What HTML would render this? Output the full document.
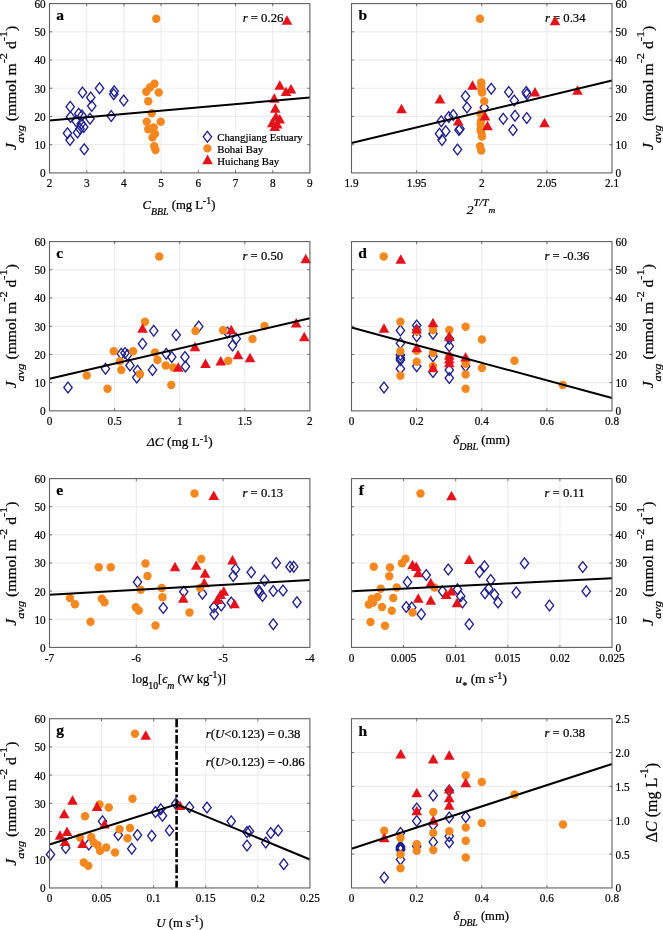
<!DOCTYPE html>
<html lang="en"><head><meta charset="utf-8"><title>Figure</title>
<style>html,body{margin:0;padding:0;background:#fff}svg{display:block;filter:blur(.3px)}text{stroke:#000;stroke-width:.22px;paint-order:stroke fill}</style></head><body>
<svg width="663" height="930" viewBox="0 0 663 930" font-family='"Liberation Serif", "DejaVu Serif", serif' fill="#000">
<rect width="663" height="930" fill="#fff"/>
<g id="p0">
<path d="M86.70 3.6V172.9M123.90 3.6V172.9M161.10 3.6V172.9M198.30 3.6V172.9M235.50 3.6V172.9M272.70 3.6V172.9M49.5 31.82H309.9M49.5 60.03H309.9M49.5 88.25H309.9M49.5 116.47H309.9M49.5 144.68H309.9" stroke="#e4e4e4" stroke-width="0.8" fill="none"/>
<text x="242.7" y="22" font-size="12.7"><tspan font-style="italic">r</tspan> = 0.26</text>
<g fill="none" stroke="#1f1f8f" stroke-width="1.3"><path d="M82.50 87.05L86.70 92.50L82.50 97.95L78.30 92.50Z"/><path d="M99.50 82.80L103.70 88.25L99.50 93.70L95.30 88.25Z"/><path d="M90.75 92.05L94.95 97.50L90.75 102.95L86.55 97.50Z"/><path d="M114.25 85.80L118.45 91.25L114.25 96.70L110.05 91.25Z"/><path d="M113.75 88.80L117.95 94.25L113.75 99.70L109.55 94.25Z"/><path d="M123.75 95.05L127.95 100.50L123.75 105.95L119.55 100.50Z"/><path d="M70.25 101.30L74.45 106.75L70.25 112.20L66.05 106.75Z"/><path d="M91.75 100.55L95.95 106.00L91.75 111.45L87.55 106.00Z"/><path d="M111.25 110.55L115.45 116.00L111.25 121.45L107.05 116.00Z"/><path d="M70.50 111.55L74.70 117.00L70.50 122.45L66.30 117.00Z"/><path d="M78.75 108.30L82.95 113.75L78.75 119.20L74.55 113.75Z"/><path d="M82.00 110.05L86.20 115.50L82.00 120.95L77.80 115.50Z"/><path d="M90.00 113.30L94.20 118.75L90.00 124.20L85.80 118.75Z"/><path d="M76.25 115.80L80.45 121.25L76.25 126.70L72.05 121.25Z"/><path d="M81.25 118.30L85.45 123.75L81.25 129.20L77.05 123.75Z"/><path d="M83.75 121.55L87.95 127.00L83.75 132.45L79.55 127.00Z"/><path d="M80.00 123.30L84.20 128.75L80.00 134.20L75.80 128.75Z"/><path d="M77.50 127.05L81.70 132.50L77.50 137.95L73.30 132.50Z"/><path d="M67.50 127.80L71.70 133.25L67.50 138.70L63.30 133.25Z"/><path d="M70.00 134.55L74.20 140.00L70.00 145.45L65.80 140.00Z"/><path d="M84.25 143.80L88.45 149.25L84.25 154.70L80.05 149.25Z"/></g>
<g fill="#f5871f"><circle cx="156.25" cy="18.75" r="4.2"/><circle cx="154.50" cy="83.75" r="4.2"/><circle cx="150.00" cy="87.50" r="4.2"/><circle cx="146.25" cy="91.75" r="4.2"/><circle cx="158.75" cy="92.50" r="4.2"/><circle cx="148.25" cy="101.25" r="4.2"/><circle cx="151.75" cy="113.25" r="4.2"/><circle cx="146.75" cy="121.75" r="4.2"/><circle cx="160.75" cy="121.75" r="4.2"/><circle cx="153.75" cy="127.50" r="4.2"/><circle cx="148.25" cy="129.25" r="4.2"/><circle cx="155.00" cy="133.75" r="4.2"/><circle cx="152.50" cy="137.50" r="4.2"/><circle cx="154.25" cy="146.25" r="4.2"/><circle cx="155.50" cy="150.00" r="4.2"/></g>
<g fill="#e4131b"><path d="M287.00 15.20L292.30 24.80L281.70 24.80Z"/><path d="M279.75 80.20L285.05 89.80L274.45 89.80Z"/><path d="M291.00 83.95L296.30 93.55L285.70 93.55Z"/><path d="M286.00 86.45L291.30 96.05L280.70 96.05Z"/><path d="M274.25 93.20L279.55 102.80L268.95 102.80Z"/><path d="M275.25 103.20L280.55 112.80L269.95 112.80Z"/><path d="M276.00 111.45L281.30 121.05L270.70 121.05Z"/><path d="M279.75 113.95L285.05 123.55L274.45 123.55Z"/><path d="M272.25 117.70L277.55 127.30L266.95 127.30Z"/><path d="M277.25 118.95L282.55 128.55L271.95 128.55Z"/><path d="M274.75 121.45L280.05 131.05L269.45 131.05Z"/></g>
<path d="M49.50 120.50L309.90 97.50" stroke="#000" stroke-width="2" fill="none" stroke-linejoin="miter"/>
<path d="M86.70 172.9v-2.6M86.70 3.6v2.6M123.90 172.9v-2.6M123.90 3.6v2.6M161.10 172.9v-2.6M161.10 3.6v2.6M198.30 172.9v-2.6M198.30 3.6v2.6M235.50 172.9v-2.6M235.50 3.6v2.6M272.70 172.9v-2.6M272.70 3.6v2.6M49.5 31.82h2.6M309.9 31.82h-2.6M49.5 60.03h2.6M309.9 60.03h-2.6M49.5 88.25h2.6M309.9 88.25h-2.6M49.5 116.47h2.6M309.9 116.47h-2.6M49.5 144.68h2.6M309.9 144.68h-2.6" stroke="#606060" stroke-width="0.9" fill="none"/>
<rect x="49.5" y="3.6" width="260.40" height="169.30" fill="none" stroke="#606060" stroke-width="1.1"/>
<text transform="translate(49.50,187.10) scale(0.925,1)" text-anchor="middle" font-size="12.2">2</text>
<text transform="translate(86.70,187.10) scale(0.925,1)" text-anchor="middle" font-size="12.2">3</text>
<text transform="translate(123.90,187.10) scale(0.925,1)" text-anchor="middle" font-size="12.2">4</text>
<text transform="translate(161.10,187.10) scale(0.925,1)" text-anchor="middle" font-size="12.2">5</text>
<text transform="translate(198.30,187.10) scale(0.925,1)" text-anchor="middle" font-size="12.2">6</text>
<text transform="translate(235.50,187.10) scale(0.925,1)" text-anchor="middle" font-size="12.2">7</text>
<text transform="translate(272.70,187.10) scale(0.925,1)" text-anchor="middle" font-size="12.2">8</text>
<text transform="translate(309.90,187.10) scale(0.925,1)" text-anchor="middle" font-size="12.2">9</text>
<text transform="translate(45.70,8.00) scale(0.925,1)" text-anchor="end" font-size="12.2">60</text>
<text transform="translate(45.70,36.22) scale(0.925,1)" text-anchor="end" font-size="12.2">50</text>
<text transform="translate(45.70,64.43) scale(0.925,1)" text-anchor="end" font-size="12.2">40</text>
<text transform="translate(45.70,92.65) scale(0.925,1)" text-anchor="end" font-size="12.2">30</text>
<text transform="translate(45.70,120.87) scale(0.925,1)" text-anchor="end" font-size="12.2">20</text>
<text transform="translate(45.70,149.08) scale(0.925,1)" text-anchor="end" font-size="12.2">10</text>
<text transform="translate(45.70,177.30) scale(0.925,1)" text-anchor="end" font-size="12.2">0</text>
</g>
<g id="p1">
<path d="M416.62 3.6V172.9M481.75 3.6V172.9M546.88 3.6V172.9M351.5 31.82H612.0M351.5 60.03H612.0M351.5 88.25H612.0M351.5 116.47H612.0M351.5 144.68H612.0" stroke="#e4e4e4" stroke-width="0.8" fill="none"/>
<text x="544.9" y="22" font-size="12.7"><tspan font-style="italic">r</tspan> = 0.34</text>
<g fill="none" stroke="#1f1f8f" stroke-width="1.3"><path d="M491.25 83.30L495.45 88.75L491.25 94.20L487.05 88.75Z"/><path d="M508.75 86.55L512.95 92.00L508.75 97.45L504.55 92.00Z"/><path d="M526.25 86.55L530.45 92.00L526.25 97.45L522.05 92.00Z"/><path d="M527.00 88.80L531.20 94.25L527.00 99.70L522.80 94.25Z"/><path d="M465.50 90.80L469.70 96.25L465.50 101.70L461.30 96.25Z"/><path d="M514.25 95.05L518.45 100.50L514.25 105.95L510.05 100.50Z"/><path d="M467.00 102.05L471.20 107.50L467.00 112.95L462.80 107.50Z"/><path d="M484.25 102.05L488.45 107.50L484.25 112.95L480.05 107.50Z"/><path d="M453.25 109.55L457.45 115.00L453.25 120.45L449.05 115.00Z"/><path d="M448.75 111.55L452.95 117.00L448.75 122.45L444.55 117.00Z"/><path d="M515.00 110.30L519.20 115.75L515.00 121.20L510.80 115.75Z"/><path d="M503.25 113.30L507.45 118.75L503.25 124.20L499.05 118.75Z"/><path d="M526.75 112.55L530.95 118.00L526.75 123.45L522.55 118.00Z"/><path d="M441.25 115.80L445.45 121.25L441.25 126.70L437.05 121.25Z"/><path d="M460.00 123.30L464.20 128.75L460.00 134.20L455.80 128.75Z"/><path d="M459.00 124.55L463.20 130.00L459.00 135.45L454.80 130.00Z"/><path d="M513.00 124.55L517.20 130.00L513.00 135.45L508.80 130.00Z"/><path d="M445.75 125.80L449.95 131.25L445.75 136.70L441.55 131.25Z"/><path d="M439.50 128.30L443.70 133.75L439.50 139.20L435.30 133.75Z"/><path d="M442.00 134.55L446.20 140.00L442.00 145.45L437.80 140.00Z"/><path d="M457.50 144.05L461.70 149.50L457.50 154.95L453.30 149.50Z"/></g>
<g fill="#f5871f"><circle cx="480.00" cy="18.75" r="4.2"/><circle cx="481.25" cy="82.50" r="4.2"/><circle cx="481.25" cy="86.00" r="4.2"/><circle cx="481.50" cy="90.00" r="4.2"/><circle cx="482.00" cy="92.50" r="4.2"/><circle cx="484.25" cy="101.25" r="4.2"/><circle cx="480.50" cy="113.75" r="4.2"/><circle cx="481.00" cy="121.00" r="4.2"/><circle cx="480.50" cy="124.00" r="4.2"/><circle cx="481.00" cy="127.00" r="4.2"/><circle cx="480.50" cy="130.00" r="4.2"/><circle cx="481.50" cy="133.00" r="4.2"/><circle cx="482.00" cy="136.50" r="4.2"/><circle cx="480.00" cy="146.25" r="4.2"/><circle cx="481.25" cy="150.50" r="4.2"/></g>
<g fill="#e4131b"><path d="M555.00 15.70L560.30 25.30L549.70 25.30Z"/><path d="M472.50 80.20L477.80 89.80L467.20 89.80Z"/><path d="M535.00 86.95L540.30 96.55L529.70 96.55Z"/><path d="M440.00 93.95L445.30 103.55L434.70 103.55Z"/><path d="M401.50 103.70L406.80 113.30L396.20 113.30Z"/><path d="M485.00 110.95L490.30 120.55L479.70 120.55Z"/><path d="M458.25 115.95L463.55 125.55L452.95 125.55Z"/><path d="M544.50 117.70L549.80 127.30L539.20 127.30Z"/><path d="M487.50 120.70L492.80 130.30L482.20 130.30Z"/><path d="M577.50 85.20L582.80 94.80L572.20 94.80Z"/></g>
<path d="M351.50 143.00L612.00 80.50" stroke="#000" stroke-width="2" fill="none" stroke-linejoin="miter"/>
<path d="M416.62 172.9v-2.6M416.62 3.6v2.6M481.75 172.9v-2.6M481.75 3.6v2.6M546.88 172.9v-2.6M546.88 3.6v2.6M351.5 31.82h2.6M612.0 31.82h-2.6M351.5 60.03h2.6M612.0 60.03h-2.6M351.5 88.25h2.6M612.0 88.25h-2.6M351.5 116.47h2.6M612.0 116.47h-2.6M351.5 144.68h2.6M612.0 144.68h-2.6" stroke="#606060" stroke-width="0.9" fill="none"/>
<rect x="351.5" y="3.6" width="260.50" height="169.30" fill="none" stroke="#606060" stroke-width="1.1"/>
<text transform="translate(351.50,187.10) scale(0.925,1)" text-anchor="middle" font-size="12.2">1.9</text>
<text transform="translate(416.62,187.10) scale(0.925,1)" text-anchor="middle" font-size="12.2">1.95</text>
<text transform="translate(481.75,187.10) scale(0.925,1)" text-anchor="middle" font-size="12.2">2</text>
<text transform="translate(546.88,187.10) scale(0.925,1)" text-anchor="middle" font-size="12.2">2.05</text>
<text transform="translate(612.00,187.10) scale(0.925,1)" text-anchor="middle" font-size="12.2">2.1</text>
<text transform="translate(615.50,8.00) scale(0.925,1)" text-anchor="start" font-size="12.2">60</text>
<text transform="translate(615.50,36.22) scale(0.925,1)" text-anchor="start" font-size="12.2">50</text>
<text transform="translate(615.50,64.43) scale(0.925,1)" text-anchor="start" font-size="12.2">40</text>
<text transform="translate(615.50,92.65) scale(0.925,1)" text-anchor="start" font-size="12.2">30</text>
<text transform="translate(615.50,120.87) scale(0.925,1)" text-anchor="start" font-size="12.2">20</text>
<text transform="translate(615.50,149.08) scale(0.925,1)" text-anchor="start" font-size="12.2">10</text>
<text transform="translate(615.50,177.30) scale(0.925,1)" text-anchor="start" font-size="12.2">0</text>
</g>
<g id="p2">
<path d="M114.60 241.6V410.85M179.70 241.6V410.85M244.80 241.6V410.85M49.5 269.81H309.9M49.5 298.02H309.9M49.5 326.23H309.9M49.5 354.43H309.9M49.5 382.64H309.9" stroke="#e4e4e4" stroke-width="0.8" fill="none"/>
<g fill="none" stroke="#1f1f8f" stroke-width="1.3"><path d="M198.75 321.05L202.95 326.50L198.75 331.95L194.55 326.50Z"/><path d="M153.75 325.30L157.95 330.75L153.75 336.20L149.55 330.75Z"/><path d="M176.25 329.55L180.45 335.00L176.25 340.45L172.05 335.00Z"/><path d="M142.50 338.30L146.70 343.75L142.50 349.20L138.30 343.75Z"/><path d="M121.25 348.30L125.45 353.75L121.25 359.20L117.05 353.75Z"/><path d="M125.00 347.55L129.20 353.00L125.00 358.45L120.80 353.00Z"/><path d="M127.50 349.55L131.70 355.00L127.50 360.45L123.30 355.00Z"/><path d="M166.25 348.30L170.45 353.75L166.25 359.20L162.05 353.75Z"/><path d="M171.75 351.55L175.95 357.00L171.75 362.45L167.55 357.00Z"/><path d="M185.00 351.55L189.20 357.00L185.00 362.45L180.80 357.00Z"/><path d="M130.00 360.05L134.20 365.50L130.00 370.95L125.80 365.50Z"/><path d="M105.50 363.30L109.70 368.75L105.50 374.20L101.30 368.75Z"/><path d="M185.50 361.05L189.70 366.50L185.50 371.95L181.30 366.50Z"/><path d="M137.50 365.30L141.70 370.75L137.50 376.20L133.30 370.75Z"/><path d="M152.50 364.55L156.70 370.00L152.50 375.45L148.30 370.00Z"/><path d="M136.75 372.05L140.95 377.50L136.75 382.95L132.55 377.50Z"/><path d="M68.00 382.05L72.20 387.50L68.00 392.95L63.80 387.50Z"/><path d="M227.50 327.05L231.70 332.50L227.50 337.95L223.30 332.50Z"/><path d="M236.25 333.30L240.45 338.75L236.25 344.20L232.05 338.75Z"/><path d="M232.50 340.05L236.70 345.50L232.50 350.95L228.30 345.50Z"/></g>
<g fill="#f5871f"><circle cx="159.25" cy="256.50" r="4.2"/><circle cx="145.00" cy="321.75" r="4.2"/><circle cx="195.50" cy="331.00" r="4.2"/><circle cx="113.75" cy="351.25" r="4.2"/><circle cx="133.00" cy="351.25" r="4.2"/><circle cx="155.00" cy="352.50" r="4.2"/><circle cx="120.00" cy="361.25" r="4.2"/><circle cx="157.50" cy="360.00" r="4.2"/><circle cx="165.75" cy="365.50" r="4.2"/><circle cx="121.25" cy="370.00" r="4.2"/><circle cx="173.25" cy="367.50" r="4.2"/><circle cx="140.00" cy="374.25" r="4.2"/><circle cx="86.75" cy="375.50" r="4.2"/><circle cx="171.25" cy="385.00" r="4.2"/><circle cx="107.50" cy="388.75" r="4.2"/><circle cx="223.00" cy="330.25" r="4.2"/><circle cx="264.50" cy="326.00" r="4.2"/><circle cx="252.50" cy="339.00" r="4.2"/><circle cx="228.25" cy="360.75" r="4.2"/></g>
<g fill="#e4131b"><path d="M142.50 323.20L147.80 332.80L137.20 332.80Z"/><path d="M195.00 341.70L200.30 351.30L189.70 351.30Z"/><path d="M178.25 362.20L183.55 371.80L172.95 371.80Z"/><path d="M205.50 358.45L210.80 368.05L200.20 368.05Z"/><path d="M305.75 253.70L311.05 263.30L300.45 263.30Z"/><path d="M296.25 317.95L301.55 327.55L290.95 327.55Z"/><path d="M304.25 331.70L309.55 341.30L298.95 341.30Z"/><path d="M231.25 324.70L236.55 334.30L225.95 334.30Z"/><path d="M238.00 349.70L243.30 359.30L232.70 359.30Z"/><path d="M250.00 352.70L255.30 362.30L244.70 362.30Z"/><path d="M220.75 355.95L226.05 365.55L215.45 365.55Z"/></g>
<path d="M49.50 378.75L309.90 318.30" stroke="#000" stroke-width="2" fill="none" stroke-linejoin="miter"/>
<path d="M114.60 410.85v-2.6M114.60 241.6v2.6M179.70 410.85v-2.6M179.70 241.6v2.6M244.80 410.85v-2.6M244.80 241.6v2.6M49.5 269.81h2.6M309.9 269.81h-2.6M49.5 298.02h2.6M309.9 298.02h-2.6M49.5 326.23h2.6M309.9 326.23h-2.6M49.5 354.43h2.6M309.9 354.43h-2.6M49.5 382.64h2.6M309.9 382.64h-2.6" stroke="#606060" stroke-width="0.9" fill="none"/>
<rect x="49.5" y="241.6" width="260.40" height="169.25" fill="none" stroke="#606060" stroke-width="1.1"/>
<text transform="translate(49.50,425.05) scale(0.925,1)" text-anchor="middle" font-size="12.2">0</text>
<text transform="translate(114.60,425.05) scale(0.925,1)" text-anchor="middle" font-size="12.2">0.5</text>
<text transform="translate(179.70,425.05) scale(0.925,1)" text-anchor="middle" font-size="12.2">1</text>
<text transform="translate(244.80,425.05) scale(0.925,1)" text-anchor="middle" font-size="12.2">1.5</text>
<text transform="translate(309.90,425.05) scale(0.925,1)" text-anchor="middle" font-size="12.2">2</text>
<text transform="translate(45.70,246.00) scale(0.925,1)" text-anchor="end" font-size="12.2">60</text>
<text transform="translate(45.70,274.21) scale(0.925,1)" text-anchor="end" font-size="12.2">50</text>
<text transform="translate(45.70,302.42) scale(0.925,1)" text-anchor="end" font-size="12.2">40</text>
<text transform="translate(45.70,330.62) scale(0.925,1)" text-anchor="end" font-size="12.2">30</text>
<text transform="translate(45.70,358.83) scale(0.925,1)" text-anchor="end" font-size="12.2">20</text>
<text transform="translate(45.70,387.04) scale(0.925,1)" text-anchor="end" font-size="12.2">10</text>
<text transform="translate(45.70,415.25) scale(0.925,1)" text-anchor="end" font-size="12.2">0</text>
</g>
<g id="p3">
<path d="M416.62 241.6V410.85M481.75 241.6V410.85M546.88 241.6V410.85M351.5 269.81H612.0M351.5 298.02H612.0M351.5 326.23H612.0M351.5 354.43H612.0M351.5 382.64H612.0" stroke="#e4e4e4" stroke-width="0.8" fill="none"/>
<g fill="none" stroke="#1f1f8f" stroke-width="1.3"><path d="M384.00 382.05L388.20 387.50L384.00 392.95L379.80 387.50Z"/><path d="M400.40 325.05L404.60 330.50L400.40 335.95L396.20 330.50Z"/><path d="M400.40 337.80L404.60 343.25L400.40 348.70L396.20 343.25Z"/><path d="M400.40 349.55L404.60 355.00L400.40 360.45L396.20 355.00Z"/><path d="M400.40 352.55L404.60 358.00L400.40 363.45L396.20 358.00Z"/><path d="M400.40 354.55L404.60 360.00L400.40 365.45L396.20 360.00Z"/><path d="M400.40 363.30L404.60 368.75L400.40 374.20L396.20 368.75Z"/><path d="M416.70 320.05L420.90 325.50L416.70 330.95L412.50 325.50Z"/><path d="M416.70 324.55L420.90 330.00L416.70 335.45L412.50 330.00Z"/><path d="M416.70 330.80L420.90 336.25L416.70 341.70L412.50 336.25Z"/><path d="M416.70 360.80L420.90 366.25L416.70 371.70L412.50 366.25Z"/><path d="M433.00 328.30L437.20 333.75L433.00 339.20L428.80 333.75Z"/><path d="M433.00 350.80L437.20 356.25L433.00 361.70L428.80 356.25Z"/><path d="M433.00 366.55L437.20 372.00L433.00 377.45L428.80 372.00Z"/><path d="M449.30 333.30L453.50 338.75L449.30 344.20L445.10 338.75Z"/><path d="M449.30 340.80L453.50 346.25L449.30 351.70L445.10 346.25Z"/><path d="M449.30 364.55L453.50 370.00L449.30 375.45L445.10 370.00Z"/><path d="M449.30 372.55L453.50 378.00L449.30 383.45L445.10 378.00Z"/><path d="M465.60 360.80L469.80 366.25L465.60 371.70L461.40 366.25Z"/></g>
<g fill="#f5871f"><circle cx="383.75" cy="256.50" r="4.2"/><circle cx="400.40" cy="321.75" r="4.2"/><circle cx="400.40" cy="351.25" r="4.2"/><circle cx="400.40" cy="375.75" r="4.2"/><circle cx="416.70" cy="331.25" r="4.2"/><circle cx="416.70" cy="350.75" r="4.2"/><circle cx="416.70" cy="361.75" r="4.2"/><circle cx="433.00" cy="330.00" r="4.2"/><circle cx="433.00" cy="353.00" r="4.2"/><circle cx="433.00" cy="366.25" r="4.2"/><circle cx="449.30" cy="330.00" r="4.2"/><circle cx="449.30" cy="356.25" r="4.2"/><circle cx="465.60" cy="326.75" r="4.2"/><circle cx="465.60" cy="363.75" r="4.2"/><circle cx="465.60" cy="374.50" r="4.2"/><circle cx="465.60" cy="388.75" r="4.2"/><circle cx="481.90" cy="339.50" r="4.2"/><circle cx="481.90" cy="368.00" r="4.2"/><circle cx="514.50" cy="360.75" r="4.2"/><circle cx="562.75" cy="385.00" r="4.2"/></g>
<g fill="#e4131b"><path d="M400.75 254.20L406.05 263.80L395.45 263.80Z"/><path d="M384.00 323.20L389.30 332.80L378.70 332.80Z"/><path d="M416.70 323.95L422.00 333.55L411.40 333.55Z"/><path d="M416.70 342.70L422.00 352.30L411.40 352.30Z"/><path d="M433.00 317.70L438.30 327.30L427.70 327.30Z"/><path d="M433.00 362.70L438.30 372.30L427.70 372.30Z"/><path d="M449.30 331.45L454.60 341.05L444.00 341.05Z"/><path d="M449.30 350.20L454.60 359.80L444.00 359.80Z"/><path d="M449.30 353.95L454.60 363.55L444.00 363.55Z"/><path d="M449.30 357.70L454.60 367.30L444.00 367.30Z"/><path d="M465.60 351.95L470.90 361.55L460.30 361.55Z"/></g>
<path d="M351.50 327.50L612.00 398.00" stroke="#000" stroke-width="2" fill="none" stroke-linejoin="miter"/>
<path d="M416.62 410.85v-2.6M416.62 241.6v2.6M481.75 410.85v-2.6M481.75 241.6v2.6M546.88 410.85v-2.6M546.88 241.6v2.6M351.5 269.81h2.6M612.0 269.81h-2.6M351.5 298.02h2.6M612.0 298.02h-2.6M351.5 326.23h2.6M612.0 326.23h-2.6M351.5 354.43h2.6M612.0 354.43h-2.6M351.5 382.64h2.6M612.0 382.64h-2.6" stroke="#606060" stroke-width="0.9" fill="none"/>
<rect x="351.5" y="241.6" width="260.50" height="169.25" fill="none" stroke="#606060" stroke-width="1.1"/>
<text transform="translate(351.50,425.05) scale(0.925,1)" text-anchor="middle" font-size="12.2">0</text>
<text transform="translate(416.62,425.05) scale(0.925,1)" text-anchor="middle" font-size="12.2">0.2</text>
<text transform="translate(481.75,425.05) scale(0.925,1)" text-anchor="middle" font-size="12.2">0.4</text>
<text transform="translate(546.88,425.05) scale(0.925,1)" text-anchor="middle" font-size="12.2">0.6</text>
<text transform="translate(612.00,425.05) scale(0.925,1)" text-anchor="middle" font-size="12.2">0.8</text>
<text transform="translate(615.50,246.00) scale(0.925,1)" text-anchor="start" font-size="12.2">60</text>
<text transform="translate(615.50,274.21) scale(0.925,1)" text-anchor="start" font-size="12.2">50</text>
<text transform="translate(615.50,302.42) scale(0.925,1)" text-anchor="start" font-size="12.2">40</text>
<text transform="translate(615.50,330.62) scale(0.925,1)" text-anchor="start" font-size="12.2">30</text>
<text transform="translate(615.50,358.83) scale(0.925,1)" text-anchor="start" font-size="12.2">20</text>
<text transform="translate(615.50,387.04) scale(0.925,1)" text-anchor="start" font-size="12.2">10</text>
<text transform="translate(615.50,415.25) scale(0.925,1)" text-anchor="start" font-size="12.2">0</text>
</g>
<g id="p4">
<path d="M136.30 478.6V647.4M223.10 478.6V647.4M49.5 506.73H309.9M49.5 534.87H309.9M49.5 563.00H309.9M49.5 591.13H309.9M49.5 619.27H309.9" stroke="#e4e4e4" stroke-width="0.8" fill="none"/>
<g fill="none" stroke="#1f1f8f" stroke-width="1.3"><path d="M137.50 576.55L141.70 582.00L137.50 587.45L133.30 582.00Z"/><path d="M183.75 586.30L187.95 591.75L183.75 597.20L179.55 591.75Z"/><path d="M202.50 588.30L206.70 593.75L202.50 599.20L198.30 593.75Z"/><path d="M163.25 602.55L167.45 608.00L163.25 613.45L159.05 608.00Z"/><path d="M276.25 557.55L280.45 563.00L276.25 568.45L272.05 563.00Z"/><path d="M290.00 561.30L294.20 566.75L290.00 572.20L285.80 566.75Z"/><path d="M293.75 561.30L297.95 566.75L293.75 572.20L289.55 566.75Z"/><path d="M235.50 563.80L239.70 569.25L235.50 574.70L231.30 569.25Z"/><path d="M251.25 566.80L255.45 572.25L251.25 577.70L247.05 572.25Z"/><path d="M233.25 570.55L237.45 576.00L233.25 581.45L229.05 576.00Z"/><path d="M264.50 575.05L268.70 580.50L264.50 585.95L260.30 580.50Z"/><path d="M258.75 585.05L262.95 590.50L258.75 595.95L254.55 590.50Z"/><path d="M259.50 587.05L263.70 592.50L259.50 597.95L255.30 592.50Z"/><path d="M273.25 585.55L277.45 591.00L273.25 596.45L269.05 591.00Z"/><path d="M283.00 585.05L287.20 590.50L283.00 595.95L278.80 590.50Z"/><path d="M262.50 590.55L266.70 596.00L262.50 601.45L258.30 596.00Z"/><path d="M297.00 596.80L301.20 602.25L297.00 607.70L292.80 602.25Z"/><path d="M231.25 597.05L235.45 602.50L231.25 607.95L227.05 602.50Z"/><path d="M221.25 600.05L225.45 605.50L221.25 610.95L217.05 605.50Z"/><path d="M213.75 601.80L217.95 607.25L213.75 612.70L209.55 607.25Z"/><path d="M214.25 608.80L218.45 614.25L214.25 619.70L210.05 614.25Z"/><path d="M273.25 618.80L277.45 624.25L273.25 629.70L269.05 624.25Z"/></g>
<g fill="#f5871f"><circle cx="194.50" cy="493.50" r="4.2"/><circle cx="201.25" cy="559.00" r="4.2"/><circle cx="145.50" cy="563.50" r="4.2"/><circle cx="98.75" cy="567.25" r="4.2"/><circle cx="110.75" cy="567.25" r="4.2"/><circle cx="147.50" cy="576.00" r="4.2"/><circle cx="161.75" cy="588.00" r="4.2"/><circle cx="140.75" cy="589.75" r="4.2"/><circle cx="200.00" cy="588.00" r="4.2"/><circle cx="162.50" cy="597.25" r="4.2"/><circle cx="70.00" cy="598.00" r="4.2"/><circle cx="101.75" cy="598.75" r="4.2"/><circle cx="104.50" cy="602.25" r="4.2"/><circle cx="75.00" cy="604.25" r="4.2"/><circle cx="135.75" cy="607.25" r="4.2"/><circle cx="138.75" cy="610.50" r="4.2"/><circle cx="189.50" cy="612.50" r="4.2"/><circle cx="90.50" cy="621.75" r="4.2"/><circle cx="155.50" cy="625.50" r="4.2"/></g>
<g fill="#e4131b"><path d="M213.75 490.45L219.05 500.05L208.45 500.05Z"/><path d="M175.00 561.70L180.30 571.30L169.70 571.30Z"/><path d="M196.25 560.20L201.55 569.80L190.95 569.80Z"/><path d="M205.00 568.20L210.30 577.80L199.70 577.80Z"/><path d="M204.25 577.70L209.55 587.30L198.95 587.30Z"/><path d="M183.25 593.20L188.55 602.80L177.95 602.80Z"/><path d="M232.50 554.95L237.80 564.55L227.20 564.55Z"/><path d="M223.75 586.20L229.05 595.80L218.45 595.80Z"/><path d="M220.50 589.45L225.80 599.05L215.20 599.05Z"/><path d="M217.50 594.45L222.80 604.05L212.20 604.05Z"/><path d="M234.50 598.70L239.80 608.30L229.20 608.30Z"/></g>
<path d="M49.50 594.75L309.90 580.00" stroke="#000" stroke-width="2" fill="none" stroke-linejoin="miter"/>
<path d="M136.30 647.4v-2.6M136.30 478.6v2.6M223.10 647.4v-2.6M223.10 478.6v2.6M49.5 506.73h2.6M309.9 506.73h-2.6M49.5 534.87h2.6M309.9 534.87h-2.6M49.5 563.00h2.6M309.9 563.00h-2.6M49.5 591.13h2.6M309.9 591.13h-2.6M49.5 619.27h2.6M309.9 619.27h-2.6" stroke="#606060" stroke-width="0.9" fill="none"/>
<rect x="49.5" y="478.6" width="260.40" height="168.80" fill="none" stroke="#606060" stroke-width="1.1"/>
<text transform="translate(49.50,661.60) scale(0.925,1)" text-anchor="middle" font-size="12.2">-7</text>
<text transform="translate(136.30,661.60) scale(0.925,1)" text-anchor="middle" font-size="12.2">-6</text>
<text transform="translate(223.10,661.60) scale(0.925,1)" text-anchor="middle" font-size="12.2">-5</text>
<text transform="translate(309.90,661.60) scale(0.925,1)" text-anchor="middle" font-size="12.2">-4</text>
<text transform="translate(45.70,483.00) scale(0.925,1)" text-anchor="end" font-size="12.2">60</text>
<text transform="translate(45.70,511.13) scale(0.925,1)" text-anchor="end" font-size="12.2">50</text>
<text transform="translate(45.70,539.27) scale(0.925,1)" text-anchor="end" font-size="12.2">40</text>
<text transform="translate(45.70,567.40) scale(0.925,1)" text-anchor="end" font-size="12.2">30</text>
<text transform="translate(45.70,595.53) scale(0.925,1)" text-anchor="end" font-size="12.2">20</text>
<text transform="translate(45.70,623.67) scale(0.925,1)" text-anchor="end" font-size="12.2">10</text>
<text transform="translate(45.70,651.80) scale(0.925,1)" text-anchor="end" font-size="12.2">0</text>
</g>
<g id="p5">
<path d="M403.60 478.6V647.4M455.70 478.6V647.4M507.80 478.6V647.4M559.90 478.6V647.4M351.5 506.73H612.0M351.5 534.87H612.0M351.5 563.00H612.0M351.5 591.13H612.0M351.5 619.27H612.0" stroke="#e4e4e4" stroke-width="0.8" fill="none"/>
<g fill="none" stroke="#1f1f8f" stroke-width="1.3"><path d="M484.50 560.80L488.70 566.25L484.50 571.70L480.30 566.25Z"/><path d="M448.25 564.05L452.45 569.50L448.25 574.95L444.05 569.50Z"/><path d="M479.50 566.55L483.70 572.00L479.50 577.45L475.30 572.00Z"/><path d="M426.25 569.55L430.45 575.00L426.25 580.45L422.05 575.00Z"/><path d="M490.75 574.55L494.95 580.00L490.75 585.45L486.55 580.00Z"/><path d="M407.50 576.55L411.70 582.00L407.50 587.45L403.30 582.00Z"/><path d="M457.50 583.80L461.70 589.25L457.50 594.70L453.30 589.25Z"/><path d="M442.50 585.80L446.70 591.25L442.50 596.70L438.30 591.25Z"/><path d="M488.75 583.30L492.95 588.75L488.75 594.20L484.55 588.75Z"/><path d="M485.00 587.80L489.20 593.25L485.00 598.70L480.80 593.25Z"/><path d="M494.50 589.05L498.70 594.50L494.50 599.95L490.30 594.50Z"/><path d="M460.75 590.80L464.95 596.25L460.75 601.70L456.55 596.25Z"/><path d="M462.50 597.05L466.70 602.50L462.50 607.95L458.30 602.50Z"/><path d="M498.00 597.05L502.20 602.50L498.00 607.95L493.80 602.50Z"/><path d="M406.25 601.55L410.45 607.00L406.25 612.45L402.05 607.00Z"/><path d="M411.75 602.05L415.95 607.50L411.75 612.95L407.55 607.50Z"/><path d="M421.25 608.80L425.45 614.25L421.25 619.70L417.05 614.25Z"/><path d="M469.25 618.80L473.45 624.25L469.25 629.70L465.05 624.25Z"/><path d="M524.50 557.80L528.70 563.25L524.50 568.70L520.30 563.25Z"/><path d="M582.75 561.55L586.95 567.00L582.75 572.45L578.55 567.00Z"/><path d="M516.25 587.05L520.45 592.50L516.25 597.95L512.05 592.50Z"/><path d="M586.25 585.80L590.45 591.25L586.25 596.70L582.05 591.25Z"/><path d="M549.50 600.05L553.70 605.50L549.50 610.95L545.30 605.50Z"/></g>
<g fill="#f5871f"><circle cx="420.50" cy="493.50" r="4.2"/><circle cx="405.50" cy="558.75" r="4.2"/><circle cx="402.00" cy="563.25" r="4.2"/><circle cx="373.75" cy="566.75" r="4.2"/><circle cx="390.00" cy="567.50" r="4.2"/><circle cx="389.25" cy="576.25" r="4.2"/><circle cx="380.75" cy="588.75" r="4.2"/><circle cx="396.75" cy="587.50" r="4.2"/><circle cx="434.50" cy="587.50" r="4.2"/><circle cx="377.50" cy="597.00" r="4.2"/><circle cx="393.25" cy="598.00" r="4.2"/><circle cx="371.75" cy="598.75" r="4.2"/><circle cx="368.75" cy="604.50" r="4.2"/><circle cx="373.25" cy="602.50" r="4.2"/><circle cx="382.00" cy="607.00" r="4.2"/><circle cx="391.75" cy="610.75" r="4.2"/><circle cx="412.50" cy="612.50" r="4.2"/><circle cx="370.50" cy="622.00" r="4.2"/><circle cx="385.00" cy="625.75" r="4.2"/></g>
<g fill="#e4131b"><path d="M451.50 490.70L456.80 500.30L446.20 500.30Z"/><path d="M469.25 554.45L474.55 564.05L463.95 564.05Z"/><path d="M412.50 559.70L417.80 569.30L407.20 569.30Z"/><path d="M416.25 561.45L421.55 571.05L410.95 571.05Z"/><path d="M418.25 567.70L423.55 577.30L412.95 577.30Z"/><path d="M430.75 577.70L436.05 587.30L425.45 587.30Z"/><path d="M451.25 585.95L456.55 595.55L445.95 595.55Z"/><path d="M446.25 589.45L451.55 599.05L440.95 599.05Z"/><path d="M418.25 593.20L423.55 602.80L412.95 602.80Z"/><path d="M430.75 595.20L436.05 604.80L425.45 604.80Z"/><path d="M457.00 597.70L462.30 607.30L451.70 607.30Z"/></g>
<path d="M351.50 591.20L612.00 578.20" stroke="#000" stroke-width="2" fill="none" stroke-linejoin="miter"/>
<path d="M403.60 647.4v-2.6M403.60 478.6v2.6M455.70 647.4v-2.6M455.70 478.6v2.6M507.80 647.4v-2.6M507.80 478.6v2.6M559.90 647.4v-2.6M559.90 478.6v2.6M351.5 506.73h2.6M612.0 506.73h-2.6M351.5 534.87h2.6M612.0 534.87h-2.6M351.5 563.00h2.6M612.0 563.00h-2.6M351.5 591.13h2.6M612.0 591.13h-2.6M351.5 619.27h2.6M612.0 619.27h-2.6" stroke="#606060" stroke-width="0.9" fill="none"/>
<rect x="351.5" y="478.6" width="260.50" height="168.80" fill="none" stroke="#606060" stroke-width="1.1"/>
<text transform="translate(351.50,661.60) scale(0.925,1)" text-anchor="middle" font-size="12.2">0</text>
<text transform="translate(403.60,661.60) scale(0.925,1)" text-anchor="middle" font-size="12.2">0.005</text>
<text transform="translate(455.70,661.60) scale(0.925,1)" text-anchor="middle" font-size="12.2">0.01</text>
<text transform="translate(507.80,661.60) scale(0.925,1)" text-anchor="middle" font-size="12.2">0.015</text>
<text transform="translate(559.90,661.60) scale(0.925,1)" text-anchor="middle" font-size="12.2">0.02</text>
<text transform="translate(612.00,661.60) scale(0.925,1)" text-anchor="middle" font-size="12.2">0.025</text>
<text transform="translate(615.50,483.00) scale(0.925,1)" text-anchor="start" font-size="12.2">60</text>
<text transform="translate(615.50,511.13) scale(0.925,1)" text-anchor="start" font-size="12.2">50</text>
<text transform="translate(615.50,539.27) scale(0.925,1)" text-anchor="start" font-size="12.2">40</text>
<text transform="translate(615.50,567.40) scale(0.925,1)" text-anchor="start" font-size="12.2">30</text>
<text transform="translate(615.50,595.53) scale(0.925,1)" text-anchor="start" font-size="12.2">20</text>
<text transform="translate(615.50,623.67) scale(0.925,1)" text-anchor="start" font-size="12.2">10</text>
<text transform="translate(615.50,651.80) scale(0.925,1)" text-anchor="start" font-size="12.2">0</text>
</g>
<g id="p6">
<path d="M101.58 718.7V887.95M153.66 718.7V887.95M205.74 718.7V887.95M257.82 718.7V887.95M49.5 746.91H309.9M49.5 775.12H309.9M49.5 803.33H309.9M49.5 831.53H309.9M49.5 859.74H309.9" stroke="#e4e4e4" stroke-width="0.8" fill="none"/>
<g fill="none" stroke="#1f1f8f" stroke-width="1.3"><path d="M175.75 798.30L179.95 803.75L175.75 809.20L171.55 803.75Z"/><path d="M189.50 801.80L193.70 807.25L189.50 812.70L185.30 807.25Z"/><path d="M160.75 803.80L164.95 809.25L160.75 814.70L156.55 809.25Z"/><path d="M155.50 806.55L159.70 812.00L155.50 817.45L151.30 812.00Z"/><path d="M162.50 810.30L166.70 815.75L162.50 821.20L158.30 815.75Z"/><path d="M102.50 815.80L106.70 821.25L102.50 826.70L98.30 821.25Z"/><path d="M169.50 825.05L173.70 830.50L169.50 835.95L165.30 830.50Z"/><path d="M118.25 829.55L122.45 835.00L118.25 840.45L114.05 835.00Z"/><path d="M137.50 829.55L141.70 835.00L137.50 840.45L133.30 835.00Z"/><path d="M151.75 830.30L155.95 835.75L151.75 841.20L147.55 835.75Z"/><path d="M131.75 843.30L135.95 848.75L131.75 854.20L127.55 848.75Z"/><path d="M65.75 842.55L69.95 848.00L65.75 853.45L61.55 848.00Z"/><path d="M50.50 849.05L54.70 854.50L50.50 859.95L46.30 854.50Z"/><path d="M88.75 839.05L92.95 844.50L88.75 849.95L84.55 844.50Z"/><path d="M207.00 802.05L211.20 807.50L207.00 812.95L202.80 807.50Z"/><path d="M231.25 815.80L235.45 821.25L231.25 826.70L227.05 821.25Z"/><path d="M247.00 826.55L251.20 832.00L247.00 837.45L242.80 832.00Z"/><path d="M249.50 825.80L253.70 831.25L249.50 836.70L245.30 831.25Z"/><path d="M247.00 840.05L251.20 845.50L247.00 850.95L242.80 845.50Z"/><path d="M265.75 837.05L269.95 842.50L265.75 847.95L261.55 842.50Z"/><path d="M270.75 827.55L274.95 833.00L270.75 838.45L266.55 833.00Z"/><path d="M278.25 825.05L282.45 830.50L278.25 835.95L274.05 830.50Z"/><path d="M283.75 858.80L287.95 864.25L283.75 869.70L279.55 864.25Z"/></g>
<g fill="#f5871f"><circle cx="135.00" cy="733.75" r="4.2"/><circle cx="132.50" cy="798.75" r="4.2"/><circle cx="99.50" cy="804.50" r="4.2"/><circle cx="108.75" cy="807.50" r="4.2"/><circle cx="85.00" cy="816.25" r="4.2"/><circle cx="119.50" cy="829.25" r="4.2"/><circle cx="130.00" cy="828.00" r="4.2"/><circle cx="91.25" cy="837.00" r="4.2"/><circle cx="127.50" cy="838.25" r="4.2"/><circle cx="80.00" cy="837.50" r="4.2"/><circle cx="93.75" cy="842.50" r="4.2"/><circle cx="97.50" cy="845.00" r="4.2"/><circle cx="106.25" cy="847.50" r="4.2"/><circle cx="100.00" cy="850.75" r="4.2"/><circle cx="115.00" cy="852.50" r="4.2"/><circle cx="83.75" cy="862.50" r="4.2"/><circle cx="88.25" cy="865.75" r="4.2"/></g>
<g fill="#e4131b"><path d="M145.75 730.20L151.05 739.80L140.45 739.80Z"/><path d="M72.50 795.20L77.80 804.80L67.20 804.80Z"/><path d="M97.00 801.45L102.30 811.05L91.70 811.05Z"/><path d="M64.25 808.70L69.55 818.30L58.95 818.30Z"/><path d="M104.50 818.95L109.80 828.55L99.20 828.55Z"/><path d="M67.00 826.45L72.30 836.05L61.70 836.05Z"/><path d="M60.00 830.20L65.30 839.80L54.70 839.80Z"/><path d="M65.00 836.45L70.30 846.05L59.70 846.05Z"/><path d="M82.50 838.45L87.80 848.05L77.20 848.05Z"/><path d="M180.00 800.45L185.30 810.05L174.70 810.05Z"/></g>
<path d="M49.50 844.50L176.80 804.25L309.90 859.50" stroke="#000" stroke-width="2" fill="none" stroke-linejoin="miter"/>
<path d="M176.6 718.7V887.95" stroke="#000" stroke-width="2.6" stroke-dasharray="8.6 2.3 3.1 2.2" fill="none"/>
<path d="M101.58 887.95v-2.6M101.58 718.7v2.6M153.66 887.95v-2.6M153.66 718.7v2.6M205.74 887.95v-2.6M205.74 718.7v2.6M257.82 887.95v-2.6M257.82 718.7v2.6M49.5 746.91h2.6M309.9 746.91h-2.6M49.5 775.12h2.6M309.9 775.12h-2.6M49.5 803.33h2.6M309.9 803.33h-2.6M49.5 831.53h2.6M309.9 831.53h-2.6M49.5 859.74h2.6M309.9 859.74h-2.6" stroke="#606060" stroke-width="0.9" fill="none"/>
<rect x="49.5" y="718.7" width="260.40" height="169.25" fill="none" stroke="#606060" stroke-width="1.1"/>
<text transform="translate(49.50,902.15) scale(0.925,1)" text-anchor="middle" font-size="12.2">0</text>
<text transform="translate(101.58,902.15) scale(0.925,1)" text-anchor="middle" font-size="12.2">0.05</text>
<text transform="translate(153.66,902.15) scale(0.925,1)" text-anchor="middle" font-size="12.2">0.1</text>
<text transform="translate(205.74,902.15) scale(0.925,1)" text-anchor="middle" font-size="12.2">0.15</text>
<text transform="translate(257.82,902.15) scale(0.925,1)" text-anchor="middle" font-size="12.2">0.2</text>
<text transform="translate(309.90,902.15) scale(0.925,1)" text-anchor="middle" font-size="12.2">0.25</text>
<text transform="translate(45.70,723.10) scale(0.925,1)" text-anchor="end" font-size="12.2">60</text>
<text transform="translate(45.70,751.31) scale(0.925,1)" text-anchor="end" font-size="12.2">50</text>
<text transform="translate(45.70,779.52) scale(0.925,1)" text-anchor="end" font-size="12.2">40</text>
<text transform="translate(45.70,807.73) scale(0.925,1)" text-anchor="end" font-size="12.2">30</text>
<text transform="translate(45.70,835.93) scale(0.925,1)" text-anchor="end" font-size="12.2">20</text>
<text transform="translate(45.70,864.14) scale(0.925,1)" text-anchor="end" font-size="12.2">10</text>
<text transform="translate(45.70,892.35) scale(0.925,1)" text-anchor="end" font-size="12.2">0</text>
</g>
<g id="p7">
<path d="M416.62 718.7V887.95M481.75 718.7V887.95M546.88 718.7V887.95M351.5 752.55H612.0M351.5 786.40H612.0M351.5 820.25H612.0M351.5 854.10H612.0" stroke="#e4e4e4" stroke-width="0.8" fill="none"/>
<g fill="none" stroke="#1f1f8f" stroke-width="1.3"><path d="M433.25 790.05L437.45 795.50L433.25 800.95L429.05 795.50Z"/><path d="M449.25 785.05L453.45 790.50L449.25 795.95L445.05 790.50Z"/><path d="M416.75 803.05L420.95 808.50L416.75 813.95L412.55 808.50Z"/><path d="M449.25 812.05L453.45 817.50L449.25 822.95L445.05 817.50Z"/><path d="M465.75 811.55L469.95 817.00L465.75 822.45L461.55 817.00Z"/><path d="M416.75 815.55L420.95 821.00L416.75 826.45L412.55 821.00Z"/><path d="M384.25 872.05L388.45 877.50L384.25 882.95L380.05 877.50Z"/><path d="M400.50 827.55L404.70 833.00L400.50 838.45L396.30 833.00Z"/><path d="M400.50 840.80L404.70 846.25L400.50 851.70L396.30 846.25Z"/><path d="M400.50 842.15L404.70 847.60L400.50 853.05L396.30 847.60Z"/><path d="M400.50 843.30L404.70 848.75L400.50 854.20L396.30 848.75Z"/><path d="M400.50 843.95L404.70 849.40L400.50 854.85L396.30 849.40Z"/><path d="M400.50 844.55L404.70 850.00L400.50 855.45L396.30 850.00Z"/><path d="M400.50 854.05L404.70 859.50L400.50 864.95L396.30 859.50Z"/><path d="M416.75 840.80L420.95 846.25L416.75 851.70L412.55 846.25Z"/><path d="M433.25 819.55L437.45 825.00L433.25 830.45L429.05 825.00Z"/><path d="M433.25 836.55L437.45 842.00L433.25 847.45L429.05 842.00Z"/><path d="M449.25 830.80L453.45 836.25L449.25 841.70L445.05 836.25Z"/><path d="M449.25 837.05L453.45 842.50L449.25 847.95L445.05 842.50Z"/></g>
<g fill="#f5871f"><circle cx="465.75" cy="775.50" r="4.2"/><circle cx="481.75" cy="782.00" r="4.2"/><circle cx="433.25" cy="812.00" r="4.2"/><circle cx="481.75" cy="823.00" r="4.2"/><circle cx="384.25" cy="830.75" r="4.2"/><circle cx="400.50" cy="838.00" r="4.2"/><circle cx="400.50" cy="854.50" r="4.2"/><circle cx="400.50" cy="868.25" r="4.2"/><circle cx="416.75" cy="844.25" r="4.2"/><circle cx="416.75" cy="850.75" r="4.2"/><circle cx="433.25" cy="833.00" r="4.2"/><circle cx="433.25" cy="850.00" r="4.2"/><circle cx="449.25" cy="831.25" r="4.2"/><circle cx="465.75" cy="827.50" r="4.2"/><circle cx="465.75" cy="840.75" r="4.2"/><circle cx="465.75" cy="857.50" r="4.2"/><circle cx="514.50" cy="794.50" r="4.2"/><circle cx="563.00" cy="824.50" r="4.2"/></g>
<g fill="#e4131b"><path d="M400.75 748.95L406.05 758.55L395.45 758.55Z"/><path d="M433.25 753.95L438.55 763.55L427.95 763.55Z"/><path d="M449.25 750.20L454.55 759.80L443.95 759.80Z"/><path d="M465.75 777.70L471.05 787.30L460.45 787.30Z"/><path d="M416.75 787.70L422.05 797.30L411.45 797.30Z"/><path d="M449.25 783.95L454.55 793.55L443.95 793.55Z"/><path d="M449.25 792.70L454.55 802.30L443.95 802.30Z"/><path d="M449.25 800.20L454.55 809.80L443.95 809.80Z"/><path d="M416.75 805.70L422.05 815.30L411.45 815.30Z"/><path d="M433.25 815.20L438.55 824.80L427.95 824.80Z"/><path d="M384.25 832.70L389.55 842.30L378.95 842.30Z"/></g>
<path d="M351.50 848.75L612.00 764.00" stroke="#000" stroke-width="2" fill="none" stroke-linejoin="miter"/>
<path d="M416.62 887.95v-2.6M416.62 718.7v2.6M481.75 887.95v-2.6M481.75 718.7v2.6M546.88 887.95v-2.6M546.88 718.7v2.6M351.5 752.55h2.6M612.0 752.55h-2.6M351.5 786.40h2.6M612.0 786.40h-2.6M351.5 820.25h2.6M612.0 820.25h-2.6M351.5 854.10h2.6M612.0 854.10h-2.6" stroke="#606060" stroke-width="0.9" fill="none"/>
<rect x="351.5" y="718.7" width="260.50" height="169.25" fill="none" stroke="#606060" stroke-width="1.1"/>
<text transform="translate(351.50,902.15) scale(0.925,1)" text-anchor="middle" font-size="12.2">0</text>
<text transform="translate(416.62,902.15) scale(0.925,1)" text-anchor="middle" font-size="12.2">0.2</text>
<text transform="translate(481.75,902.15) scale(0.925,1)" text-anchor="middle" font-size="12.2">0.4</text>
<text transform="translate(546.88,902.15) scale(0.925,1)" text-anchor="middle" font-size="12.2">0.6</text>
<text transform="translate(612.00,902.15) scale(0.925,1)" text-anchor="middle" font-size="12.2">0.8</text>
<text transform="translate(615.50,723.10) scale(0.925,1)" text-anchor="start" font-size="12.2">2.5</text>
<text transform="translate(615.50,756.95) scale(0.925,1)" text-anchor="start" font-size="12.2">2.0</text>
<text transform="translate(615.50,790.80) scale(0.925,1)" text-anchor="start" font-size="12.2">1.5</text>
<text transform="translate(615.50,824.65) scale(0.925,1)" text-anchor="start" font-size="12.2">1.0</text>
<text transform="translate(615.50,858.50) scale(0.925,1)" text-anchor="start" font-size="12.2">0.5</text>
<text transform="translate(615.50,892.35) scale(0.925,1)" text-anchor="start" font-size="12.2">0</text>
</g>
<text x="56.2" y="20" font-size="15.5" font-weight="bold">a</text>
<text x="358.5" y="20" font-size="15.5" font-weight="bold">b</text>
<text x="56.2" y="258" font-size="15.5" font-weight="bold">c</text>
<text x="358.3" y="258.3" font-size="15.5" font-weight="bold">d</text>
<text x="56.2" y="495" font-size="15.5" font-weight="bold">e</text>
<text x="358.7" y="495" font-size="15.5" font-weight="bold">f</text>
<text x="56.2" y="735.2" font-size="15.5" font-weight="bold">g</text>
<text x="358.5" y="735.5" font-size="15.5" font-weight="bold">h</text>
<text x="242.5" y="260" font-size="12.7"><tspan font-style="italic">r</tspan> = 0.50</text>
<text x="544.5" y="260" font-size="12.7"><tspan font-style="italic">r</tspan> = -0.36</text>
<text x="242.5" y="497.2" font-size="12.7"><tspan font-style="italic">r</tspan> = 0.13</text>
<text x="544.5" y="497.2" font-size="12.7"><tspan font-style="italic">r</tspan> = 0.11</text>
<text x="544.5" y="737.3" font-size="12.7"><tspan font-style="italic">r</tspan> = 0.38</text>
<rect x="204.5" y="726" width="98.5" height="15" fill="#fff"/><rect x="204.5" y="754" width="102" height="15" fill="#fff"/>
<text x="205.7" y="737.8" font-size="12.8"><tspan font-style="italic">r</tspan>(<tspan font-style="italic">U</tspan>&lt;0.123) = 0.38</text>
<text x="205.7" y="765.8" font-size="12.8"><tspan font-style="italic">r</tspan>(<tspan font-style="italic">U</tspan>&gt;0.123) = -0.86</text>
<rect x="198.5" y="131.6" width="107" height="35.6" fill="#fff"/>
<g fill="none" stroke="#1f1f8f" stroke-width="1.3"><path d="M207.40 131.35L211.60 136.80L207.40 142.25L203.20 136.80Z"/></g><g fill="#f5871f"><circle cx="207.40" cy="148.40" r="4.2"/></g><g fill="#e4131b"><path d="M207.60 154.60L212.90 164.20L202.30 164.20Z"/></g>
<text x="217.2" y="140.7" font-size="10.8">Changjiang Estuary</text><text x="217.2" y="152.5" font-size="10.8">Bohai Bay</text><text x="217.2" y="164.5" font-size="10.8">Huichang Bay</text>
<text transform="translate(16,87.85) rotate(-90) scale(1.088,1)" text-anchor="middle" font-size="14.4"><tspan font-style="italic">J</tspan><tspan font-style="italic" font-size="11.4" dy="7.9">avg</tspan><tspan dy="-7.9"> (mmol m</tspan><tspan font-size="11.4" dy="-9.3">-2</tspan><tspan dy="9.3"> d</tspan><tspan font-size="11.4" dy="-9.3">-1</tspan><tspan dy="9.3">)</tspan></text>
<text transform="translate(653.4,87.85) rotate(-90) scale(1.088,1)" text-anchor="middle" font-size="14.4"><tspan font-style="italic">J</tspan><tspan font-style="italic" font-size="11.4" dy="7.9">avg</tspan><tspan dy="-7.9"> (mmol m</tspan><tspan font-size="11.4" dy="-9.3">-2</tspan><tspan dy="9.3"> d</tspan><tspan font-size="11.4" dy="-9.3">-1</tspan><tspan dy="9.3">)</tspan></text>
<text transform="translate(16,326.225) rotate(-90) scale(1.088,1)" text-anchor="middle" font-size="14.4"><tspan font-style="italic">J</tspan><tspan font-style="italic" font-size="11.4" dy="7.9">avg</tspan><tspan dy="-7.9"> (mmol m</tspan><tspan font-size="11.4" dy="-9.3">-2</tspan><tspan dy="9.3"> d</tspan><tspan font-size="11.4" dy="-9.3">-1</tspan><tspan dy="9.3">)</tspan></text>
<text transform="translate(653.4,326.225) rotate(-90) scale(1.088,1)" text-anchor="middle" font-size="14.4"><tspan font-style="italic">J</tspan><tspan font-style="italic" font-size="11.4" dy="7.9">avg</tspan><tspan dy="-7.9"> (mmol m</tspan><tspan font-size="11.4" dy="-9.3">-2</tspan><tspan dy="9.3"> d</tspan><tspan font-size="11.4" dy="-9.3">-1</tspan><tspan dy="9.3">)</tspan></text>
<text transform="translate(16,563.6) rotate(-90) scale(1.088,1)" text-anchor="middle" font-size="14.4"><tspan font-style="italic">J</tspan><tspan font-style="italic" font-size="11.4" dy="7.9">avg</tspan><tspan dy="-7.9"> (mmol m</tspan><tspan font-size="11.4" dy="-9.3">-2</tspan><tspan dy="9.3"> d</tspan><tspan font-size="11.4" dy="-9.3">-1</tspan><tspan dy="9.3">)</tspan></text>
<text transform="translate(653.4,563.6) rotate(-90) scale(1.088,1)" text-anchor="middle" font-size="14.4"><tspan font-style="italic">J</tspan><tspan font-style="italic" font-size="11.4" dy="7.9">avg</tspan><tspan dy="-7.9"> (mmol m</tspan><tspan font-size="11.4" dy="-9.3">-2</tspan><tspan dy="9.3"> d</tspan><tspan font-size="11.4" dy="-9.3">-1</tspan><tspan dy="9.3">)</tspan></text>
<text transform="translate(16,803.625) rotate(-90) scale(1.088,1)" text-anchor="middle" font-size="14.4"><tspan font-style="italic">J</tspan><tspan font-style="italic" font-size="11.4" dy="7.9">avg</tspan><tspan dy="-7.9"> (mmol m</tspan><tspan font-size="11.4" dy="-9.3">-2</tspan><tspan dy="9.3"> d</tspan><tspan font-size="11.4" dy="-9.3">-1</tspan><tspan dy="9.3">)</tspan></text>
<text transform="translate(657.3,802.5250000000001) rotate(-90) scale(1.0,1)" text-anchor="middle" font-size="16">Δ<tspan font-style="italic">C</tspan> (mg L<tspan font-size="11.5" dy="-9">-1</tspan><tspan dy="9">)</tspan></text>
<text transform="translate(179,209) scale(1.025,1)" text-anchor="middle" font-size="12.4"><tspan font-style="italic">C</tspan><tspan font-style="italic" font-size="9.6" dy="6.1">BBL</tspan><tspan dy="-6.1"> (mg L</tspan><tspan font-size="9.6" dy="-4.8">-1</tspan><tspan dy="4.8">)</tspan></text>
<text transform="translate(481,213.5) scale(1.07,1)" text-anchor="middle" font-size="12.4"><tspan font-style="italic" font-size="12.6">2</tspan><tspan font-style="italic" font-size="10" dy="-7.2">T/T</tspan><tspan font-style="italic" font-size="8.8" dy="6.6">m</tspan></text>
<text transform="translate(179.9,446.4) scale(1.07,1)" text-anchor="middle" font-size="12.4"><tspan font-style="italic">ΔC</tspan> (mg L<tspan font-size="9.6" dy="-4.8">-1</tspan><tspan dy="4.8">)</tspan></text>
<text transform="translate(481.5,443.7) scale(1.04,1)" text-anchor="middle" font-size="12.4"><tspan font-style="italic">δ</tspan><tspan font-style="italic" font-size="9.6" dy="6.1">DBL</tspan><tspan dy="-6.1"> (mm)</tspan></text>
<text transform="translate(179,682.8) scale(1.02,1)" text-anchor="middle" font-size="12.4">log<tspan font-size="9.6" dy="6.1">10</tspan><tspan dy="-6.1">[</tspan><tspan font-style="italic">ϵ</tspan><tspan font-style="italic" font-size="9.6" dy="6.1">m</tspan><tspan dy="-6.1"> (W kg</tspan><tspan font-size="9.6" dy="-4.8">-1</tspan><tspan dy="4.8">)]</tspan></text>
<text transform="translate(481.2,683.3) scale(1.07,1)" text-anchor="middle" font-size="12.4"><tspan font-style="italic">u</tspan><tspan font-size="9.6" dy="6.1">*</tspan><tspan dy="-6.1"> (m s</tspan><tspan font-size="9.6" dy="-4.8">-1</tspan><tspan dy="4.8">)</tspan></text>
<text transform="translate(179.9,927) scale(1.03,1)" text-anchor="middle" font-size="12.4"><tspan font-style="italic">U</tspan> (m s<tspan font-size="9.6" dy="-4.8">-1</tspan><tspan dy="4.8">)</tspan></text>
<text transform="translate(481.2,919.7) scale(1.015,1)" text-anchor="middle" font-size="12.4"><tspan font-style="italic">δ</tspan><tspan font-style="italic" font-size="9.6" dy="6.1">DBL</tspan><tspan dy="-6.1"> (mm)</tspan></text>
</svg></body></html>
